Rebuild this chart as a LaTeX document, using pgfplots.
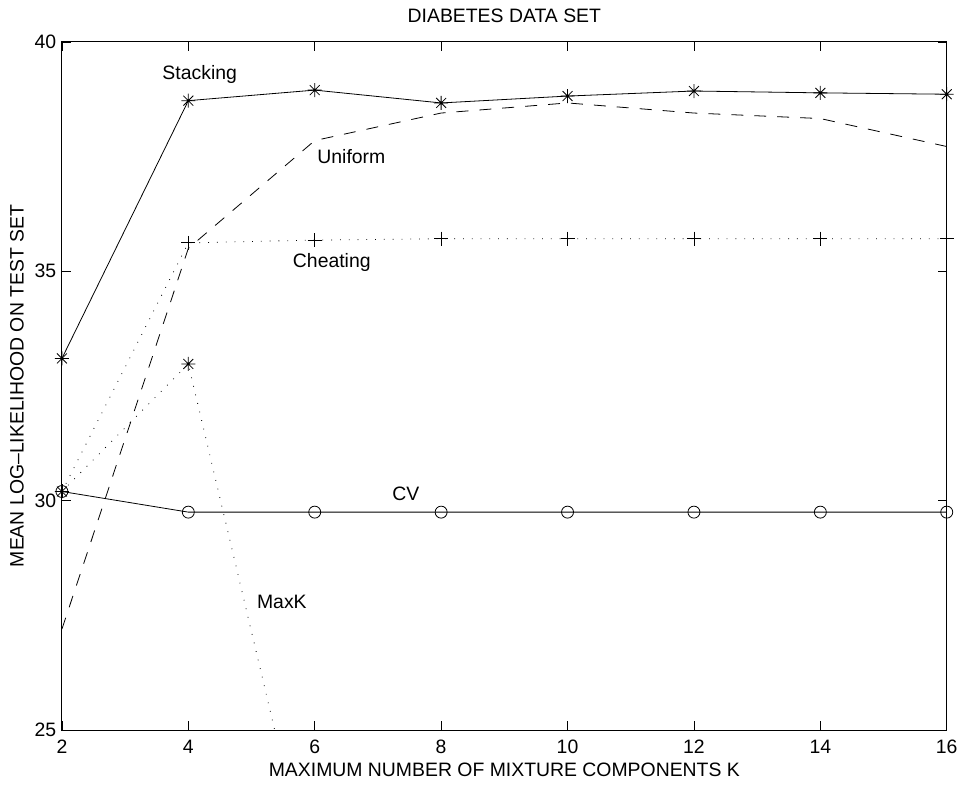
\documentclass[border=0pt]{standalone}
\usepackage{fontspec}
\setmainfont{Liberation Sans}
\usepackage{pgfplots}
\pgfplotsset{compat=1.18}
\pgfdeclareplotmark{mlstar}{%
  \pgfpathmoveto{\pgfqpoint{-\pgfplotmarksize}{0pt}}%
  \pgfpathlineto{\pgfqpoint{\pgfplotmarksize}{0pt}}%
  \pgfpathmoveto{\pgfqpoint{0pt}{-\pgfplotmarksize}}%
  \pgfpathlineto{\pgfqpoint{0pt}{\pgfplotmarksize}}%
  \pgfpathmoveto{\pgfqpoint{-0.707\pgfplotmarksize}{-0.707\pgfplotmarksize}}%
  \pgfpathlineto{\pgfqpoint{0.707\pgfplotmarksize}{0.707\pgfplotmarksize}}%
  \pgfpathmoveto{\pgfqpoint{-0.707\pgfplotmarksize}{0.707\pgfplotmarksize}}%
  \pgfpathlineto{\pgfqpoint{0.707\pgfplotmarksize}{-0.707\pgfplotmarksize}}%
  \pgfusepathqstroke}
\begin{document}
\begin{tikzpicture}
\fontsize{19.5}{23}\selectfont
\begin{axis}[
  scale only axis,
  width=886bp, height=689bp,
  xmin=2, xmax=16, ymin=25, ymax=40,
  xtick={2,4,...,16}, ytick={25,30,35,40},
  tick align=inside,
  major tick length=9bp,
  axis line style={line width=1bp},
  every tick/.style={black, line width=0.8bp},
  /pgf/number format/assume math mode=true,
  tick label style={font=\fontsize{19.5}{23}\selectfont},
  xticklabel style={yshift=-3bp},
  yticklabel style={xshift=1bp},
  label style={font=\fontsize{19.5}{23}\selectfont},
  title style={font=\fontsize{19.5}{23}\selectfont, at={(0.5,1)}, anchor=center, yshift=20bp},
  title={DIABETES DATA SET},
  xlabel={MAXIMUM NUMBER OF MIXTURE COMPONENTS K},
  xlabel style={at={(0.5,0)}, anchor=center, yshift=-40bp},
  ylabel={MEAN LOG--LIKELIHOOD ON TEST SET},
  ylabel style={at={(-0.0508,0.5)}, anchor=center},
  clip=true,
]
% Stacking
\addplot[black, line width=0.8bp, mark=mlstar, mark size=7bp, mark options={solid}] coordinates {
 (2,33.1) (4,38.72) (6,38.95) (8,38.67) (10,38.82) (12,38.93) (14,38.89) (16,38.86)};
% Uniform
\addplot[black, line width=0.8bp, dash pattern=on 12bp off 11bp] coordinates {
 (2,27.2) (4,35.5) (6,37.85) (8,38.45) (10,38.67) (12,38.45) (14,38.33) (16,37.72)};
% Cheating
\addplot[black, line width=0.8bp, dash pattern=on 0.8bp off 8bp, mark=+, mark size=7bp, mark options={solid}] coordinates {
 (2,30.2) (4,35.62) (6,35.68) (8,35.71) (10,35.71) (12,35.71) (14,35.71) (16,35.71)};
% MaxK
\addplot[black, line width=0.8bp, dash pattern=on 0.8bp off 8bp, mark=mlstar, mark size=7bp, mark options={solid}] coordinates {
 (2,30.2) (4,32.98) (6,21.3)};
% CV
\addplot[black, line width=0.8bp, mark=o, mark size=6bp, mark options={solid}] coordinates {
 (2,30.2) (4,29.75) (6,29.75) (8,29.75) (10,29.75) (12,29.75) (14,29.75) (16,29.75)};
\node at (axis cs:4.18,39.28) {Stacking};
\node at (axis cs:6.58,37.5) {Uniform};
\node at (axis cs:6.27,35.19) {Cheating};
\node at (axis cs:7.44,30.16) {CV};
\node at (axis cs:5.48,27.79) {MaxK};
\end{axis}
\path (-62bp,-55bp) rectangle (902bp,731bp);
\end{tikzpicture}
\end{document}
